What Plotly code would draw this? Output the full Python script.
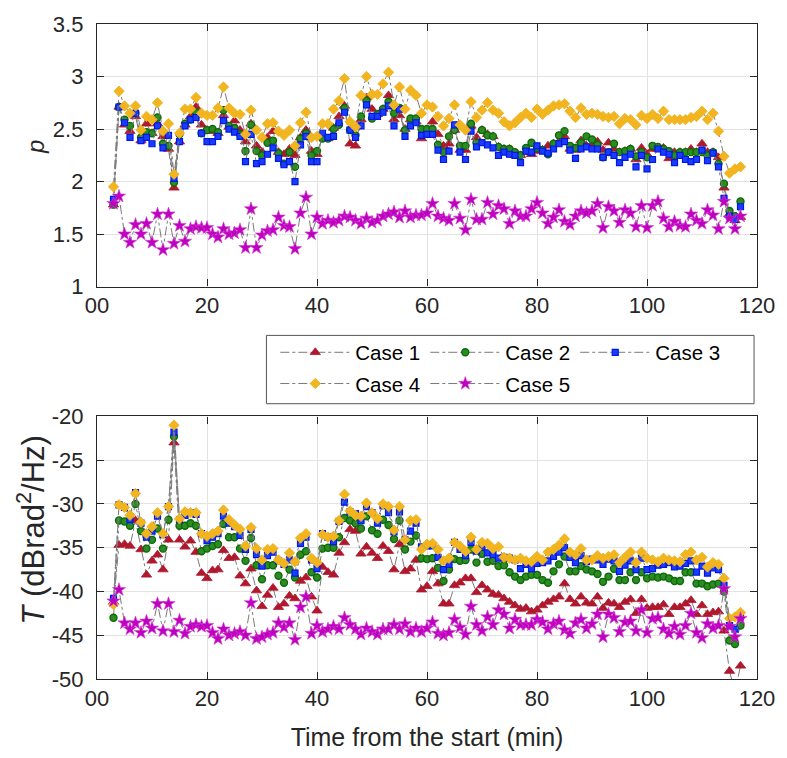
import plotly.graph_objects as go

minutes = list(range(3, 118))

case_names = ["Case 1", "Case 2", "Case 3", "Case 4", "Case 5"]
legend_rows = ["legend", "legend", "legend", "legend2", "legend2"]

p_case1 = [1.78, 2.71, 2.54, 2.48, 2.62, 2.39, 2.55, 2.46, 2.55, 2.43,
           2.31, 1.94, 2.38, 2.54, 2.62, 2.71, 2.54, 2.49, 2.48, 2.46,
           2.63, 2.52, 2.58, 2.49, 2.38, 2.55, 2.34, 2.28, 2.42, 2.48,
           2.28, 2.26, 2.31, 2.25, 2.42, 2.49, 2.29, 2.26, 2.42, 2.41,
           2.51, 2.62, 2.72, 2.36, 2.34, 2.59, 2.80, 2.69, 2.64, 2.69,
           2.82, 2.59, 2.63, 2.50, 2.59, 2.57, 2.41, 2.45, 2.57, 2.45,
           2.34, 2.36, 2.49, 2.30, 2.30, 2.53, 2.42, 2.49, 2.45, 2.43,
           2.33, 2.31, 2.31, 2.25, 2.25, 2.28, 2.26, 2.29, 2.30, 2.34,
           2.36, 2.38, 2.43, 2.31, 2.30, 2.39, 2.34, 2.34, 2.38, 2.30,
           2.37, 2.31, 2.28, 2.29, 2.31, 2.21, 2.32, 2.26, 2.31, 2.31,
           2.32, 2.22, 2.28, 2.28, 2.28, 2.31, 2.28, 2.36, 2.28, 2.28,
           2.23, 1.94, 1.69, 1.63, 1.66]
p_case2 = [1.78, 2.71, 2.59, 2.53, 2.65, 2.42, 2.47, 2.46, 2.61, 2.36,
           2.34, 1.99, 2.45, 2.55, 2.59, 2.66, 2.46, 2.49, 2.50, 2.47,
           2.68, 2.53, 2.51, 2.45, 2.29, 2.54, 2.29, 2.25, 2.37, 2.39,
           2.27, 2.17, 2.28, 2.14, 2.41, 2.46, 2.25, 2.29, 2.41, 2.41,
           2.50, 2.54, 2.70, 2.49, 2.44, 2.62, 2.77, 2.60, 2.64, 2.69,
           2.76, 2.65, 2.70, 2.49, 2.60, 2.60, 2.50, 2.50, 2.50, 2.35,
           2.28, 2.43, 2.49, 2.34, 2.34, 2.55, 2.37, 2.49, 2.44, 2.43,
           2.33, 2.31, 2.31, 2.28, 2.25, 2.32, 2.37, 2.32, 2.30, 2.26,
           2.36, 2.44, 2.48, 2.34, 2.32, 2.37, 2.43, 2.40, 2.35, 2.23,
           2.28, 2.36, 2.28, 2.29, 2.31, 2.24, 2.28, 2.23, 2.34, 2.33,
           2.31, 2.29, 2.25, 2.28, 2.28, 2.28, 2.28, 2.28, 2.25, 2.28,
           2.17, 1.98, 1.72, 1.67, 1.81]
p_case3 = [1.83, 2.71, 2.56, 2.42, 2.65, 2.39, 2.42, 2.36, 2.53, 2.32,
           2.44, 2.03, 2.38, 2.53, 2.59, 2.61, 2.46, 2.38, 2.38, 2.43,
           2.58, 2.50, 2.47, 2.43, 2.19, 2.45, 2.17, 2.19, 2.26, 2.32,
           2.22, 2.16, 2.19, 2.00, 2.35, 2.43, 2.19, 2.19, 2.46, 2.42,
           2.43, 2.56, 2.66, 2.49, 2.42, 2.53, 2.73, 2.62, 2.62, 2.66,
           2.72, 2.53, 2.69, 2.43, 2.53, 2.56, 2.44, 2.45, 2.45, 2.30,
           2.21, 2.29, 2.54, 2.28, 2.21, 2.48, 2.33, 2.37, 2.35, 2.32,
           2.25, 2.28, 2.26, 2.25, 2.18, 2.29, 2.28, 2.34, 2.29, 2.27,
           2.31, 2.36, 2.38, 2.30, 2.22, 2.31, 2.33, 2.31, 2.31, 2.23,
           2.28, 2.25, 2.18, 2.23, 2.26, 2.14, 2.25, 2.12, 2.21, 2.31,
           2.28, 2.26, 2.18, 2.25, 2.21, 2.19, 2.21, 2.30, 2.20, 2.27,
           2.14, 1.84, 1.67, 1.64, 1.76]
p_case4 = [1.95, 2.86, 2.72, 2.65, 2.72, 2.49, 2.62, 2.59, 2.75, 2.48,
           2.55, 2.07, 2.46, 2.69, 2.69, 2.80, 2.65, 2.63, 2.63, 2.70,
           2.90, 2.70, 2.65, 2.64, 2.45, 2.68, 2.49, 2.42, 2.55, 2.56,
           2.48, 2.44, 2.49, 2.34, 2.56, 2.66, 2.42, 2.43, 2.55, 2.55,
           2.69, 2.77, 2.98, 2.57, 2.52, 2.82, 3.00, 2.83, 2.83, 2.93,
           3.04, 2.73, 2.90, 2.69, 2.87, 2.82, 2.65, 2.73, 2.71, 2.62,
           2.53, 2.60, 2.73, 2.54, 2.49, 2.76, 2.61, 2.68, 2.75, 2.68,
           2.65, 2.57, 2.53, 2.56, 2.61, 2.65, 2.61, 2.69, 2.64, 2.68,
           2.72, 2.73, 2.74, 2.67, 2.61, 2.70, 2.64, 2.65, 2.64, 2.62,
           2.61, 2.62, 2.55, 2.60, 2.59, 2.54, 2.63, 2.60, 2.64, 2.60,
           2.67, 2.59, 2.59, 2.59, 2.59, 2.61, 2.62, 2.67, 2.59, 2.65,
           2.48, 2.24, 2.08, 2.12, 2.14]
p_case5 = [1.79, 1.86, 1.50, 1.42, 1.59, 1.50, 1.60, 1.42, 1.69, 1.35,
           1.69, 1.41, 1.58, 1.43, 1.55, 1.57, 1.56, 1.56, 1.50, 1.47,
           1.55, 1.50, 1.51, 1.54, 1.37, 1.74, 1.37, 1.49, 1.53, 1.54,
           1.66, 1.58, 1.57, 1.36, 1.70, 1.85, 1.50, 1.66, 1.60, 1.63,
           1.61, 1.63, 1.67, 1.66, 1.63, 1.60, 1.65, 1.61, 1.63, 1.67,
           1.69, 1.71, 1.66, 1.72, 1.66, 1.68, 1.68, 1.70, 1.79, 1.67,
           1.65, 1.63, 1.79, 1.65, 1.54, 1.83, 1.64, 1.64, 1.80, 1.69,
           1.77, 1.74, 1.60, 1.72, 1.67, 1.67, 1.74, 1.80, 1.70, 1.60,
           1.66, 1.73, 1.62, 1.59, 1.67, 1.72, 1.70, 1.72, 1.79, 1.56,
           1.76, 1.72, 1.61, 1.73, 1.70, 1.57, 1.77, 1.56, 1.77, 1.81,
           1.65, 1.57, 1.62, 1.58, 1.57, 1.69, 1.63, 1.60, 1.73, 1.68,
           1.55, 1.81, 1.65, 1.55, 1.67]

t_case1 = [-41.2, -34.7, -34.6, -34.8, -31.9, -35.2, -38.1, -36.5, -35.8, -37.5,
           -34.1, -23.0, -34.1, -34.9, -34.2, -35.5, -37.9, -38.5, -37.6, -37.5,
           -35.3, -36.2, -36.1, -38.2, -39.1, -37.4, -39.9, -41.7, -40.4, -39.6,
           -41.8, -41.4, -40.5, -40.8, -38.8, -38.4, -40.6, -42.2, -37.2, -37.8,
           -38.1, -35.6, -34.4, -32.9, -33.1, -35.7, -34.9, -35.6, -36.2, -34.8,
           -35.4, -37.5, -34.6, -37.7, -37.4, -36.4, -39.8, -39.4, -37.7, -39.1,
           -41.4, -41.4, -39.3, -39.0, -38.5, -38.5, -40.1, -39.3, -39.8, -40.3,
           -40.4, -40.8, -41.2, -41.6, -42.0, -41.9, -42.3, -42.1, -41.6, -41.2,
           -40.9, -40.6, -39.1, -40.9, -41.4, -40.6, -41.3, -41.4, -40.6, -41.9,
           -41.3, -41.4, -41.8, -41.2, -40.9, -42.5, -40.9, -41.9, -41.8, -41.8,
           -41.5, -42.6, -41.8, -41.8, -41.4, -41.0, -42.6, -41.6, -42.6, -42.4,
           -42.3, -44.5, -49.1, -51.5, -48.5]
t_case2 = [-43.0, -31.9, -32.0, -32.5, -30.0, -33.1, -35.1, -34.1, -32.8, -35.1,
           -31.8, -22.3, -32.5, -32.5, -32.2, -32.5, -35.4, -35.1, -34.8, -34.6,
           -32.3, -33.8, -33.8, -35.1, -36.5, -33.9, -37.0, -38.6, -37.0, -37.0,
           -38.2, -39.0, -37.5, -38.4, -35.8, -35.4, -37.8, -38.4, -35.1, -35.0,
           -35.0, -33.8, -31.6, -31.9, -32.2, -32.8, -31.4, -33.0, -33.4, -31.8,
           -32.4, -34.0, -31.9, -35.2, -34.3, -33.6, -36.2, -36.3, -36.2, -37.3,
           -38.8, -37.5, -36.3, -36.5, -36.4, -35.2, -36.7, -35.7, -36.6, -36.5,
           -37.1, -37.0, -37.8, -38.3, -38.7, -38.3, -38.1, -38.1, -38.7, -39.0,
           -37.7, -36.9, -36.0, -37.7, -37.7, -37.1, -37.5, -37.7, -38.0, -38.9,
           -38.3, -37.4, -38.7, -38.7, -37.8, -38.7, -37.8, -38.5, -38.3, -38.4,
           -38.3, -38.5, -38.8, -38.8, -37.8, -37.8, -39.1, -39.1, -39.4, -39.2,
           -39.1, -40.0, -45.6, -46.0, -43.9]
t_case3 = [-40.8, -30.1, -30.4, -31.8, -28.7, -32.2, -33.8, -33.1, -31.4, -33.5,
           -30.3, -21.8, -31.8, -31.3, -31.0, -31.2, -33.4, -34.2, -33.8, -33.4,
           -31.4, -32.2, -32.6, -33.6, -35.2, -32.9, -35.8, -37.1, -35.9, -35.5,
           -36.5, -36.9, -36.4, -37.9, -34.5, -33.8, -36.4, -37.4, -33.4, -33.8,
           -34.3, -32.0, -29.8, -30.9, -31.1, -31.9, -30.3, -31.0, -32.2, -30.2,
           -31.0, -33.2, -30.9, -34.1, -33.1, -32.2, -34.9, -34.8, -34.8, -36.1,
           -37.5, -36.9, -34.4, -35.2, -35.9, -34.4, -35.4, -34.9, -35.6, -35.8,
           -36.2, -36.1, -36.2, -36.4, -37.4, -36.9, -37.4, -36.8, -36.7, -36.5,
           -36.0, -35.5, -35.0, -36.1, -36.7, -35.9, -36.6, -36.3, -36.4, -36.9,
           -36.3, -36.5, -37.7, -37.0, -36.5, -37.5, -36.2, -37.5, -37.4, -37.0,
           -36.9, -36.7, -37.2, -37.1, -36.8, -36.5, -37.8, -37.1, -37.9, -37.3,
           -37.5, -39.3, -43.9, -44.3, -42.9]
t_case4 = [-41.5, -30.1, -30.4, -31.3, -28.8, -32.1, -33.4, -32.6, -31.0, -33.4,
           -30.3, -21.0, -31.7, -30.9, -31.0, -31.0, -33.4, -33.7, -33.4, -33.1,
           -30.7, -31.8, -32.4, -32.9, -34.8, -32.7, -35.1, -36.4, -35.2, -35.1,
           -36.4, -36.8, -35.6, -36.6, -33.9, -33.4, -36.2, -36.7, -33.5, -33.8,
           -33.7, -31.9, -28.9, -30.8, -31.3, -31.4, -29.9, -31.0, -31.7, -30.0,
           -30.3, -33.0, -30.3, -34.1, -31.9, -31.8, -35.2, -34.6, -34.5, -35.2,
           -36.5, -36.2, -34.4, -34.8, -35.4, -33.8, -35.2, -34.4, -34.5, -35.1,
           -34.9, -36.1, -36.2, -36.4, -36.2, -36.5, -36.6, -36.0, -36.4, -35.5,
           -35.2, -34.7, -34.0, -35.5, -35.8, -35.1, -36.4, -36.4, -35.9, -36.2,
           -36.0, -35.8, -36.7, -36.1, -35.5, -36.7, -35.5, -36.2, -36.4, -36.6,
           -36.2, -36.4, -36.5, -36.6, -35.8, -35.5, -36.4, -36.1, -37.2, -36.7,
           -36.9, -38.5, -43.1, -42.9, -42.4]
t_case5 = [-41.1, -39.8, -43.6, -44.3, -43.6, -44.7, -43.4, -44.2, -41.4, -44.5,
           -41.4, -44.6, -43.3, -44.8, -44.0, -43.8, -44.0, -43.9, -44.7, -45.4,
           -44.3, -45.0, -44.8, -44.6, -45.0, -41.3, -45.4, -45.2, -44.9, -44.7,
           -43.6, -44.1, -43.6, -45.5, -41.8, -40.6, -44.8, -43.9, -44.6, -44.3,
           -44.0, -44.3, -43.0, -43.8, -44.3, -44.9, -44.2, -44.6, -44.9, -44.3,
           -44.3, -43.8, -44.3, -43.7, -44.6, -44.2, -44.6, -44.2, -43.5, -44.8,
           -45.0, -44.7, -43.2, -44.1, -44.9, -41.7, -43.8, -44.5, -42.9, -43.8,
           -42.1, -42.6, -44.2, -43.2, -43.8, -43.8, -43.8, -43.2, -43.5, -44.3,
           -43.7, -43.4, -44.4, -44.8, -43.6, -43.2, -44.2, -43.7, -42.6, -45.2,
           -42.6, -43.0, -44.6, -43.5, -43.4, -44.5, -42.1, -44.7, -43.1, -43.0,
           -44.3, -44.8, -44.0, -44.9, -43.9, -42.5, -44.7, -45.3, -43.7, -44.2,
           -43.9, -39.7, -44.0, -45.2, -43.1]

x_tickvals = [0, 20, 40, 60, 80, 100, 120]
x_ticktext = ["00", "20", "40", "60", "80", "100", "120"]
p_tickvals = [1, 1.5, 2, 2.5, 3, 3.5]
p_ticktext = ["1", "1.5", "2", "2.5", "3", "3.5"]
t_tickvals = [-50, -45, -40, -35, -30, -25, -20]
t_ticktext = ["-50", "-45", "-40", "-35", "-30", "-25", "-20"]

p_label = "<i>p</i>"
t_label = "<i>T</i> (dBrad<sup>2</sup>/Hz)"
x_label = "Time from the start (min)"

styles = [
    dict(symbol="triangle-up", size=9, color="#B0182D", line=dict(color="#B0182D", width=0.8)),
    dict(symbol="circle", size=7, color="#2E8B22", line=dict(color="#0B6A0B", width=1.4)),
    dict(symbol="square", size=6, color="#1A3CFF", line=dict(color="#0018E0", width=1.2)),
    dict(symbol="diamond", size=8, color="#F2B51E", line=dict(color="#EDB120", width=0.8)),
    dict(symbol="star", size=10, color="#C000C0", line=dict(color="#D040D0", width=0.6)),
]

p_series = [p_case1, p_case2, p_case3, p_case4, p_case5]
t_series = [t_case1, t_case2, t_case3, t_case4, t_case5]

FONT = "Liberation Sans, Arial, sans-serif"
INK = "#262626"
LINE = dict(color="#7A7A7A", width=1, dash="dashdot")

fig = go.Figure()
for name, ys, st, lg in zip(case_names, p_series, styles, legend_rows):
    fig.add_trace(go.Scatter(
        x=minutes, y=ys, name=name, mode="lines+markers", line=LINE,
        marker=st, xaxis="x", yaxis="y", showlegend=True, legend=lg))
for name, ys, st in zip(case_names, t_series, styles):
    fig.add_trace(go.Scatter(
        x=minutes, y=ys, name=name, mode="lines+markers", line=LINE,
        marker=st, xaxis="x2", yaxis="y2", showlegend=False))

axis_common = dict(
    showline=True, linecolor=INK, linewidth=1.3, mirror="allticks",
    ticks="inside", ticklen=7, tickwidth=1.3, tickcolor=INK,
    showgrid=True, gridcolor="#E3E3E3", gridwidth=1,
    zeroline=False, tickfont=dict(family=FONT, size=22, color=INK),
)

W, H = 787, 758
L_PX, R_PX = 97, 20
top_px, bot_px = 15, 72
plot_w = W - L_PX - R_PX
plot_h = H - top_px - bot_px


def fx(px):
    return (px - L_PX) / plot_w


def fy(py):
    return (H - bot_px - py) / plot_h


legend_common = dict(
    orientation="h", xanchor="left", yanchor="top",
    bgcolor="rgba(0,0,0,0)", borderwidth=0,
    font=dict(family=FONT, size=20.5, color="black"),
    itemwidth=70,
)

fig.update_layout(
    width=W, height=H,
    margin=dict(l=L_PX, r=R_PX, t=top_px, b=bot_px),
    paper_bgcolor="white", plot_bgcolor="white",
    font=dict(family=FONT, color=INK),
    xaxis=dict(axis_common, domain=[0, 1], anchor="y", range=[0, 120],
               tickvals=x_tickvals, ticktext=x_ticktext, ticklabelstandoff=-1),
    yaxis=dict(axis_common, domain=[fy(284), fy(15)], anchor="x", range=[1, 3.5],
               tickvals=p_tickvals, ticktext=p_ticktext, ticklabelstandoff=8),
    xaxis2=dict(axis_common, domain=[0, 1], anchor="y2", range=[0, 120],
                tickvals=x_tickvals, ticktext=x_ticktext, ticklabelstandoff=-1,
                title=dict(text=x_label, font=dict(family=FONT, size=25, color=INK), standoff=18)),
    yaxis2=dict(axis_common, domain=[fy(686), fy(417)], anchor="x2", range=[-50, -20],
                tickvals=t_tickvals, ticktext=t_ticktext, ticklabelstandoff=8),
    legend=dict(legend_common, x=fx(278), y=fy(331)),
    legend2=dict(legend_common, x=fx(278), y=fy(363)),
    shapes=[dict(type="rect", xref="paper", yref="paper",
                 x0=fx(269), x1=fx(764), y0=fy(404), y1=fy(334),
                 line=dict(color="#555555", width=1), fillcolor="white", layer="below")],
    annotations=[
        dict(text=p_label, xref="paper", yref="paper", x=fx(35), y=fy(141),
             textangle=-90, showarrow=False, xanchor="center", yanchor="middle",
             font=dict(family=FONT, size=24, color=INK)),
        dict(text=t_label, xref="paper", yref="paper", x=fx(30), y=fy(533),
             textangle=-90, showarrow=False, xanchor="center", yanchor="middle",
             font=dict(family=FONT, size=31, color=INK)),
    ],
)

fig.write_html("out.html")
